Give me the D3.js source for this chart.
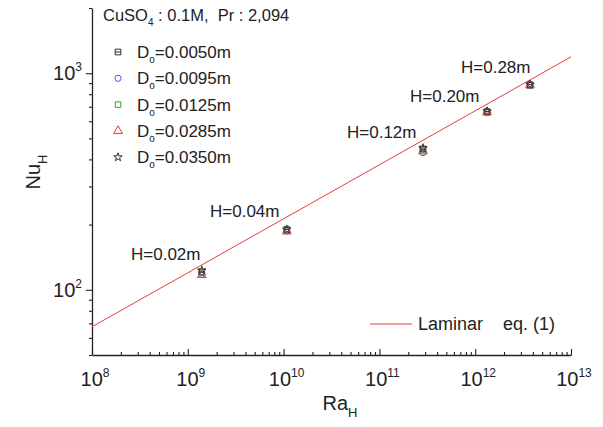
<!DOCTYPE html>
<html>
<head>
<meta charset="utf-8">
<script src="https://cdn.jsdelivr.net/npm/d3@7"></script>
<style>
    body {margin: 0; background: white;}
    svg text {font-family: 'Liberation Sans', Arial, sans-serif; fill: #222; white-space: pre;}
</style>
</head>
<body>
<div id="chart"></div>
<script>
// values
var ra = [1.4e9, 1.08e10, 2.85e11, 1.33e12, 3.73e12];
var heights = ['H=0.02m', 'H=0.04m', 'H=0.12m', 'H=0.20m', 'H=0.28m'];
var nuD0050 = [121, 190, 447, 665, 885];
var nuD0095 = [118, 187, 430, 657, 876];
var nuD0125 = [120, 189, 444, 663, 882];
var nuD0285 = [117, 186, 436, 660, 879];
var nuD0350 = [123, 190, 451, 667, 887];
var seriesNames = ['0.0050m', '0.0095m', '0.0125m', '0.0285m', '0.0350m'];
var laminarRa = [1e8, 1e13];
var laminarNu = [67.5, 1190];
var xMajor = [1e8, 1e9, 1e10, 1e11, 1e12, 1e13];
var yMajor = [100, 1000];

var width = 603, height = 427;
var margin = {left: 92, right: 32, top: 8, bottom: 72};

var svg = d3.select('#chart').append('svg')
    .attr('width', width)
    .attr('height', height);

var x = d3.scaleLog().domain([1e8, 1e13]).range([margin.left, width - margin.right]);
var y = d3.scaleLog().domain([50, 2000]).range([height - margin.bottom, margin.top]);

var xMinor = [];
xMajor.slice(0, -1).forEach(function(d){
    for (var k = 2; k < 10; k++){ xMinor.push(d * k); }
});
var yMinor = [50, 60, 70, 80, 90, 200, 300, 400, 500, 600, 700, 800, 900, 2000];

var y0 = height - margin.bottom;

// x axis, ticks pointing inward
svg.append('g')
    .attr('transform', 'translate(0,' + y0 + ')')
    .call(d3.axisBottom(x).tickValues(xMinor).tickSize(-3).tickFormat(''))
    .call(function(g){ g.select('.domain').remove(); });
svg.append('g')
    .attr('transform', 'translate(0,' + y0 + ')')
    .call(d3.axisBottom(x).tickValues(xMajor).tickSizeInner(-6).tickSizeOuter(0).tickFormat(''));

// y axis, ticks pointing outward
svg.append('g')
    .attr('transform', 'translate(' + margin.left + ',0)')
    .call(d3.axisLeft(y).tickValues(yMinor).tickSize(3).tickFormat(''))
    .call(function(g){ g.select('.domain').remove(); });
svg.append('g')
    .attr('transform', 'translate(' + margin.left + ',0)')
    .call(d3.axisLeft(y).tickValues(yMajor).tickSizeInner(6).tickSizeOuter(0).tickFormat(''));

svg.selectAll('.domain').attr('stroke', '#222').attr('stroke-width', 1.3);
svg.selectAll('.tick line').attr('stroke', '#222').attr('stroke-width', 1.1);

// tick labels with superscripts
var xl = svg.append('g').selectAll('text').data(xMajor)
    .enter()
        .append('text')
        .attr('x', function(d){return x(d) + 3})
        .attr('y', y0 + 31)
        .attr('text-anchor', 'middle')
        .style('font-size', '20px');
xl.append('tspan').text('10');
xl.append('tspan')
    .attr('dy', -9)
    .style('font-size', '12px')
    .text(function(d){return Math.round(Math.log10(d))});

var yl = svg.append('g').selectAll('text').data(yMajor)
    .enter()
        .append('text')
        .attr('x', margin.left - 10)
        .attr('y', function(d){return y(d) + 7})
        .attr('text-anchor', 'end')
        .style('font-size', '20px');
yl.append('tspan').text('10');
yl.append('tspan')
    .attr('dy', -9)
    .style('font-size', '12px')
    .text(function(d){return Math.round(Math.log10(d))});

// axis titles
var xt = svg.append('text')
    .attr('x', 340)
    .attr('y', 410)
    .attr('text-anchor', 'middle')
    .style('font-size', '20px');
xt.append('tspan').text('Ra');
xt.append('tspan').attr('dy', 7).style('font-size', '13px').text('H');

var yt = svg.append('text')
    .attr('transform', 'translate(40,172) rotate(-90)')
    .attr('text-anchor', 'middle')
    .style('font-size', '20px');
yt.append('tspan').text('Nu');
yt.append('tspan').attr('dy', 7).style('font-size', '13px').text('H');

// laminar correlation
var lamData = laminarRa.map(function(d, i){return [d, laminarNu[i]]});
svg.append('path')
    .datum(lamData)
    .attr('d', d3.line().x(function(d){return x(d[0])}).y(function(d){return y(d[1])}))
    .attr('fill', 'none')
    .attr('stroke', '#e43c3c')
    .attr('stroke-width', 1);

// marker styles per series
var series = [
    {name: seriesNames[0], nu: nuD0050, symbol: d3.symbolSquare, size: 32, color: '#2a2a2a', bar: true},
    {name: seriesNames[1], nu: nuD0095, symbol: d3.symbolCircle, size: 30, color: '#5a4ee0'},
    {name: seriesNames[2], nu: nuD0125, symbol: d3.symbolSquare, size: 30, color: '#3a9a3a'},
    {name: seriesNames[3], nu: nuD0285, symbol: d3.symbolTriangle, size: 34, color: '#e03a3a'},
    {name: seriesNames[4], nu: nuD0350, symbol: d3.symbolStar, size: 22, color: '#333333'}
];

function drawMarker(g, s){
    g.append('path')
        .attr('d', d3.symbol().type(s.symbol).size(s.size)())
        .attr('fill', 'none')
        .attr('stroke', s.color)
        .attr('stroke-width', 1);
    if (s.bar){
        g.append('line')
            .attr('x1', -2.8).attr('x2', 2.8)
            .attr('y1', 0).attr('y2', 0)
            .attr('stroke', s.color)
            .attr('stroke-width', 1);
    }
}

series.forEach(function(s){
    svg.append('g').selectAll('g').data(ra)
        .enter()
            .append('g')
            .attr('transform', function(d, i){return 'translate(' + x(d) + ',' + y(s.nu[i]) + ')'})
            .each(function(){ drawMarker(d3.select(this), s); });
});

// H annotations
var labelPos = [[131, 260], [210, 217], [347, 138], [410, 102], [461, 73]];
svg.append('g').selectAll('text').data(heights)
    .enter()
        .append('text')
        .attr('x', function(d, i){return labelPos[i][0]})
        .attr('y', function(d, i){return labelPos[i][1]})
        .style('font-size', '17px')
        .text(function(d){return d});

// title
var title = svg.append('text')
    .attr('x', 103)
    .attr('y', 21)
    .style('font-size', '16.5px');
title.append('tspan').text('CuSO');
title.append('tspan').attr('dy', 5).style('font-size', '10px').text('4');
title.append('tspan').attr('dy', -5).text(' : 0.1M,  Pr : 2,094');

// legend
var legend = svg.append('g').selectAll('g').data(series)
    .enter()
        .append('g')
        .attr('transform', function(d, i){return 'translate(118,' + (52 + i * 26.3) + ')'});
legend.each(function(s){ drawMarker(d3.select(this), s); });
var lt = legend.append('text')
    .attr('x', 19)
    .attr('y', 6)
    .style('font-size', '17px');
lt.append('tspan').text('D');
lt.append('tspan').attr('dy', 5).style('font-size', '10px').text('o');
lt.append('tspan').attr('dy', -5).text(function(d){return '=' + d.name});

// laminar legend
svg.append('line')
    .attr('x1', 370).attr('x2', 412)
    .attr('y1', 324).attr('y2', 324)
    .attr('stroke', '#e43c3c')
    .attr('stroke-width', 1);
svg.append('text')
    .attr('x', 418)
    .attr('y', 330)
    .style('font-size', '18px')
    .text('Laminar    eq. (1)');
</script>
</body>
</html>
